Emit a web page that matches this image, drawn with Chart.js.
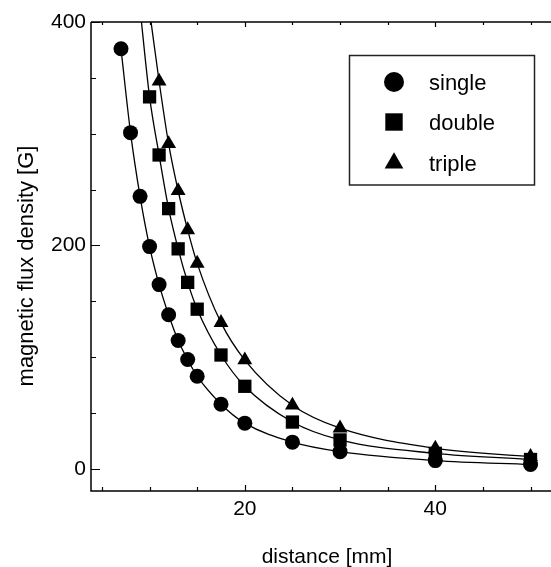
<!DOCTYPE html>
<html>
<head>
<meta charset="utf-8">
<script src="https://cdn.jsdelivr.net/npm/chart.js@4/dist/chart.umd.min.js"></script>
<style>
    body { margin: 0; background: #fff; }
    canvas { display: block; }
</style>
</head>
<body>
<canvas id="chart" width="551" height="567"></canvas>
<script>
// Distances of the measurements [mm]
const distances = [7, 8, 9, 10, 11, 12, 13, 14, 15, 17.5, 20, 25, 30, 40, 50];

// Flux density per magnet configuration [G] (null = not measured / out of range)
const singleValues = [376, 301, 244, 199, 165, 138, 115, 98, 83, 58, 41, 24, 15.5, 7.5, 4];
const doubleValues = [null, null, 412, 333, 281, 233, 197, 167, 143, 102, 74, 42, 26, 14, 8.5];
const tripleValues = [null, null, null, 410, 347, 291, 249, 214, 184, 131, 97.5, 57, 36.5, 18.5, 11];

// Series names and marker styles
const seriesNames = ['single', 'double', 'triple'];
const seriesMarkers = ['circle', 'rect', 'triangle'];

// Axis ticks and titles
const xTickValues = [5, 10, 15, 20, 25, 30, 35, 40, 45, 50];
const xLabelValues = [20, 40];
const yTickValues = [0, 50, 100, 150, 200, 250, 300, 350, 400];
const yLabelValues = [0, 200, 400];
const xTitle = 'distance [mm]';
const yTitle = 'magnetic flux density [G]';

const fontFamily = '"Liberation Sans", Arial, Helvetica, sans-serif';

/**
 * Build a scatter dataset from a list of values
 * @param {number} index index of the series
 * @param {Array} values the y values
 * @param {number} radius marker radius
 */
function makeDataset(index, values, radius) {
    var points = [];
    for (var i = 0; i < distances.length; ++i) {
        if (values[i] !== null) {
            points.push({ x: distances[i], y: values[i] });
        }
    }
    return {
        label: seriesNames[index],
        data: points,
        showLine: true,
        borderColor: '#000',
        borderWidth: 1.3,
        backgroundColor: '#000',
        pointStyle: seriesMarkers[index],
        pointRadius: radius,
        pointBorderWidth: 0,
        pointBackgroundColor: '#000',
        cubicInterpolationMode: 'monotone',
        clip: 0,
    };
}

// Draw the axis frame, the inward ticks and the axis titles
const framePlugin = {
    id: 'frame',
    afterDatasetsDraw(chart) {
        const ctx = chart.ctx;
        const area = chart.chartArea;
        const x = chart.scales.x, y = chart.scales.y;
        ctx.save();
        ctx.strokeStyle = '#000';
        ctx.lineWidth = 1.5;
        ctx.beginPath();
        ctx.moveTo(area.left, area.top);
        ctx.lineTo(area.left, area.bottom);
        ctx.lineTo(area.right, area.bottom);
        ctx.moveTo(area.left, area.top);
        ctx.lineTo(area.right, area.top);
        ctx.stroke();

        ctx.lineWidth = 1.2;
        ctx.beginPath();
        xTickValues.forEach(v => {
            const px = Math.round(x.getPixelForValue(v)) + 0.5;
            const len = xLabelValues.includes(v) ? 6 : 4;
            ctx.moveTo(px, area.bottom);
            ctx.lineTo(px, area.bottom - len);
            ctx.moveTo(px, area.top);
            ctx.lineTo(px, area.top + len - 1);
        });
        yTickValues.forEach(v => {
            const py = Math.round(y.getPixelForValue(v)) + 0.5;
            const len = yLabelValues.includes(v) ? 9 : 5;
            ctx.moveTo(area.left, py);
            ctx.lineTo(area.left + len, py);
        });
        ctx.stroke();

        // Axis titles
        ctx.fillStyle = '#000';
        ctx.textAlign = 'center';
        ctx.textBaseline = 'alphabetic';
        ctx.font = '21px ' + fontFamily;
        ctx.fillText(xTitle, 327, 563);
        ctx.translate(33, 266);
        ctx.rotate(-Math.PI / 2);
        ctx.font = '22px ' + fontFamily;
        ctx.fillText(yTitle, 0, 0);
        ctx.restore();
    }
};

// Legend box drawn inside the plot area
const legendPlugin = {
    id: 'boxLegend',
    afterDatasetsDraw(chart) {
        const ctx = chart.ctx;
        const box = { left: 349.5, top: 55.5, width: 185, height: 129.5 };
        const rows = [82, 122, 163];
        const radii = [10, 12.3, 10.8];
        ctx.save();
        ctx.fillStyle = '#fff';
        ctx.fillRect(box.left, box.top, box.width, box.height);
        ctx.strokeStyle = '#222';
        ctx.lineWidth = 1.5;
        ctx.strokeRect(box.left, box.top, box.width, box.height);
        ctx.font = '22px ' + fontFamily;
        ctx.textBaseline = 'alphabetic';
        ctx.textAlign = 'left';
        chart.data.datasets.forEach((ds, i) => {
            ctx.fillStyle = '#000';
            Chart.helpers.drawPoint(ctx, {
                pointStyle: ds.pointStyle, radius: radii[i], rotation: 0, borderWidth: 0
            }, 394, rows[i]);
            ctx.fillStyle = '#000';
            ctx.fillText(ds.label, 429, rows[i] + 8);
        });
        ctx.restore();
    }
};

const config = {
    type: 'scatter',
    data: {
        datasets: [
            makeDataset(0, singleValues, 7.5),
            makeDataset(1, doubleValues, 9.4),
            makeDataset(2, tripleValues, 8.6),
        ]
    },
    options: {
        responsive: false,
        animation: false,
        devicePixelRatio: 1,
        layout: {
            autoPadding: false,
            padding: { top: 22, right: 0, bottom: 0, left: 0 }
        },
        plugins: {
            legend: { display: false },
            tooltip: { enabled: false },
        },
        scales: {
            x: {
                type: 'linear',
                position: 'bottom',
                min: 3.85,
                max: 52.15,
                grid: { display: false, drawTicks: false },
                border: { display: false },
                afterBuildTicks: (scale) => {
                    scale.ticks = xTickValues.map(v => ({ value: v }));
                },
                afterFit: (scale) => {
                    scale.height = 76;
                    scale.paddingLeft = 0;
                    scale.paddingRight = 0;
                },
                ticks: {
                    autoSkip: false,
                    maxRotation: 0,
                    padding: 6,
                    color: '#000',
                    font: { family: fontFamily, size: 21 },
                    callback: (v) => xLabelValues.includes(v) ? String(v) : '',
                },
            },
            y: {
                type: 'linear',
                min: -19.7,
                max: 400,
                grid: { display: false, drawTicks: false },
                border: { display: false },
                afterBuildTicks: (scale) => {
                    scale.ticks = yTickValues.map(v => ({ value: v }));
                },
                afterFit: (scale) => {
                    scale.width = 91;
                    scale.paddingTop = 0;
                    scale.paddingBottom = 0;
                },
                ticks: {
                    autoSkip: false,
                    padding: 5,
                    color: '#000',
                    font: { family: fontFamily, size: 21 },
                    callback: (v) => yLabelValues.includes(v) ? String(v) : '',
                },
            },
        },
    },
    plugins: [framePlugin, legendPlugin],
};

new Chart(document.getElementById('chart'), config);
</script>
</body>
</html>
